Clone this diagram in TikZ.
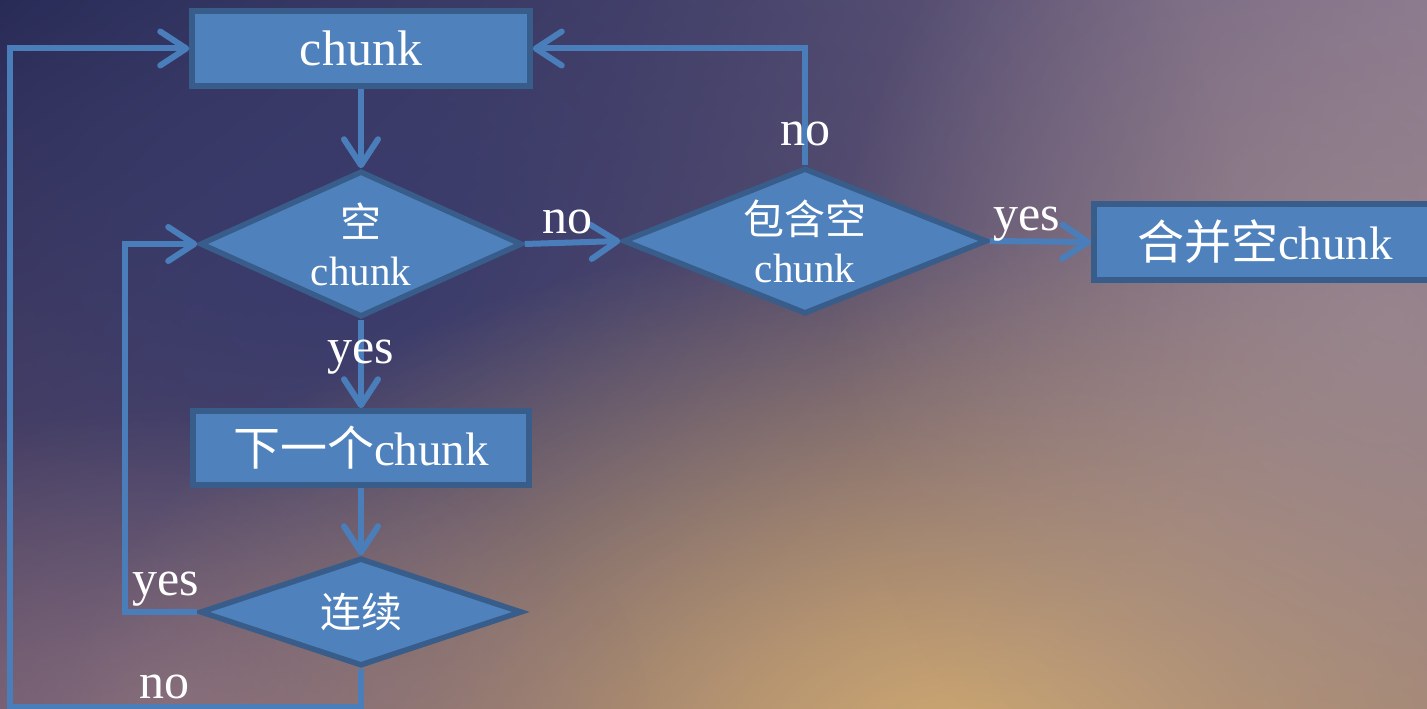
\documentclass[tikz,border=0pt]{standalone}
\usepackage{fontspec}
\setmainfont{Liberation Serif}
\newfontfamily\cjk{Noto Sans CJK SC}
\usetikzlibrary{shapes.geometric,arrows.meta,fadings,shadings}

\definecolor{boxfill}{HTML}{4F81BD}
\definecolor{boxline}{HTML}{385D8A}
\definecolor{linkblue}{HTML}{4A7EBB}
\definecolor{bgUL}{HTML}{1F2146}
\definecolor{bgUR}{HTML}{84728E}
\definecolor{bgLL}{HTML}{76596A}
\definecolor{bgLR}{HTML}{8A6E6F}
\definecolor{glowblue}{HTML}{363A6E}
\definecolor{glowgold}{HTML}{CDA872}
\definecolor{glowrose}{HTML}{9D8B92}
\definecolor{glowmauve}{HTML}{967B84}

\tikzfading[name=softglow, inner color=transparent!0, outer color=transparent!100]

\newcommand\zh[1]{{\cjk #1}}

\begin{document}
\begin{tikzpicture}[x=1pt, y=-1pt,
  stepbox/.style={rectangle, draw=boxline, fill=boxfill, line width=5.5pt,
    text=white, inner sep=0pt, font=\fontsize{47}{52}\selectfont},
  decision/.style={diamond, draw=boxline, fill=boxfill, line width=5.5pt,
    text=white, inner sep=0pt, align=center,
    font=\fontsize{41}{48}\selectfont},
  link/.style={draw=linkblue, line width=6pt},
  arr/.style={link, -{Straight Barb[length=26pt, width=34pt, round]}},
  tag/.style={text=white, anchor=base, inner sep=0pt,
    font=\fontsize{50}{56}\selectfont}]

\useasboundingbox (0,0) rectangle (1427,709);
\clip (0,0) rectangle (1427,709);

% backdrop: four-corner blend with soft glows on top
\shade[upper left=bgUL, upper right=bgUR, lower left=bgLL, lower right=bgLR]
  (0,0) rectangle (1427,709);
\fill[glowblue, opacity=0.9, path fading=softglow]
  (340,260) ellipse [x radius=900, y radius=700];
\fill[glowgold, path fading=softglow]
  (960,745) ellipse [x radius=900, y radius=520];
\fill[glowrose, opacity=0.75, path fading=softglow]
  (1390,320) ellipse [x radius=560, y radius=600];
\fill[glowmauve, opacity=0.6, path fading=softglow]
  (170,705) ellipse [x radius=480, y radius=300];

% process boxes and decisions
\node[stepbox, minimum width=338, minimum height=75,
  font=\fontsize{50}{56}\selectfont] (b1) at (361,48.5) {chunk};
\node[decision, minimum width=322, minimum height=146, aspect=2.2]
  (d1) at (361,244) {\zh{空}\\chunk};
\node[stepbox, minimum width=336, minimum height=74]
  (b2) at (361,448) {\zh{下一个}chunk};
\node[decision, minimum width=322, minimum height=108, aspect=3]
  (d3) at (361,612) {\zh{连续}};
\node[decision, minimum width=364, minimum height=146, aspect=2.5]
  (d2) at (805,241) {\zh{包含空}\\chunk};
\node[stepbox, minimum width=342, minimum height=76]
  (b3) at (1265,242) {\zh{合并空}chunk};

\coordinate (innerx) at (125,0);
\coordinate (cornerBL) at (10,707);

% connectors
\draw[arr] (b1.south) -- (d1.north);
\draw[arr] (d1.south) -- (b2.north);
\draw[arr] (b2.south) -- (d3.north);
\draw[arr] (d3.west) -- (d3.west -| innerx) |- (d1.west);
\draw[arr] (d3.south) |- (cornerBL) |- (b1.west);
\draw[arr] (d1.east) -- (d2.west);
\draw[arr] (d2.north) |- (b1.east);
\draw[arr] (d2.east) -- (b3.west);

% branch labels
\node[tag] (l1) at (361,363) {yes};
\node[tag] (l2) at (567,233) {no};
\node[tag] (l3) at (805,145) {no};
\node[tag] (l4) at (1027,230) {yes};
\node[tag] (l5) at (166,595) {yes};
\node[tag] (l6) at (164,698) {no};
\end{tikzpicture}
\end{document}
